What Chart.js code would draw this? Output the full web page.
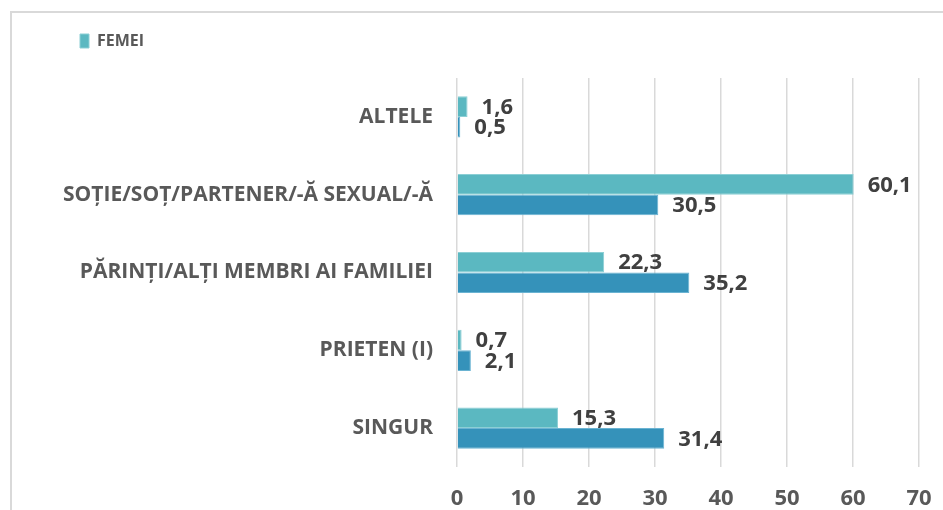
<!DOCTYPE html>
<html lang="ro">
<head>
  <meta charset="UTF-8">
  <title>Cu cine locuiesc</title>
  <script src="https://cdn.jsdelivr.net/npm/chart.js"></script>
  <style>
    body {
      margin: 0;
      background: #fff;
      overflow: hidden;
    }

    .wrap {
      position: relative;
      width: 943px;
      height: 510px;
    }

    .frame {
      position: absolute;
      left: 10px;
      top: 11px;
      width: 1200px;
      height: 800px;
      border: 2px solid #d9d9d9;
      pointer-events: none;
    }
  </style>
</head>
<body>
  <div class="wrap">
    <canvas id="g"></canvas>
    <div class="frame"></div>
  </div>

  <script>
    const categorii = ['ALTELE', 'SOȚIE/SOȚ/PARTENER/-Ă SEXUAL/-Ă', 'PĂRINȚI/ALȚI MEMBRI AI FAMILIEI', 'PRIETEN (I)', 'SINGUR'];
    const femei = [1.6, 60.1, 22.3, 0.7, 15.3];
    const barbati = [0.5, 30.5, 35.2, 2.1, 31.4];
    const ticksX = [0, 10, 20, 30, 40, 50, 60, 70];

    const font = '"Open Sans", sans-serif';

    // etichete cu valori la capatul barelor
    const etichete = {
      id: 'etichete',
      afterDatasetsDraw(chart) {
        const x = chart.ctx;
        x.save();
        x.font = 'bold 22px ' + font;
        x.fillStyle = '#404040';
        x.textAlign = 'left';
        x.textBaseline = 'middle';
        chart.data.datasets.forEach((d, i) => {
          chart.getDatasetMeta(i).data.forEach((el, j) => {
            x.fillText(d.data[j].toFixed(1).replace('.', ','), el.x + 14, el.y + 1);
          });
        });
        x.restore();
      }
    };

    // legenda mai inalta si mutata spre dreapta
    const legendaInalta = {
      id: 'legendaInalta',
      beforeInit(chart) {
        const f = chart.legend.fit;
        chart.legend.fit = function () {
          f.call(this);
          this.height = 55;
        };
      },
      afterLayout(chart) {
        chart.legend.left = 70;
      }
    };

    new Chart(document.getElementById('g'), {
      type: 'bar',
      data: {
        labels: categorii,
        datasets: [{
          label: 'FEMEI',
          data: femei,
          backgroundColor: '#5bb8c1',
          borderColor: '#8ccfd5',
          borderWidth: 1,
          categoryPercentage: 0.53,
          barPercentage: 1
        }, {
          label: 'BĂRBAȚI',
          data: barbati,
          backgroundColor: '#3592ba',
          borderColor: '#6ab3d2',
          borderWidth: 1,
          categoryPercentage: 0.53,
          barPercentage: 1
        }]
      },
      options: {
        indexAxis: 'y',
        responsive: true,
        maintainAspectRatio: false,
        animation: false,
        layout: {
          padding: { left: 30, right: 24, top: 23, bottom: 0 }
        },
        plugins: {
          tooltip: { enabled: false },
          legend: {
            position: 'top',
            align: 'start',
            labels: {
              filter: (it) => it.datasetIndex === 0,
              boxWidth: 9,
              boxHeight: 14,
              padding: 10,
              color: '#595959',
              font: { family: font, size: 16, weight: 'bold' }
            }
          }
        },
        scales: {
          x: {
            min: 0,
            max: 70,
            afterBuildTicks: (s) => { s.ticks = ticksX.map(v => ({ value: v })); },
            afterFit: (s) => { s.height = 43; s.paddingLeft = 0; s.paddingRight = 0; },
            grid: { color: '#d9d9d9', lineWidth: 1.5, drawTicks: false },
            border: { display: false },
            ticks: {
              padding: 19,
              color: '#595959',
              font: { family: font, size: 22, weight: 'bold' }
            }
          },
          y: {
            afterFit: (s) => { s.width = 427; },
            grid: { display: false, drawTicks: false },
            border: { display: false },
            ticks: {
              padding: 24,
              color: '#595959',
              font: { family: font, size: 21, weight: 'bold' }
            }
          }
        }
      },
      plugins: [etichete, legendaInalta]
    });
  </script>
</body>
</html>
